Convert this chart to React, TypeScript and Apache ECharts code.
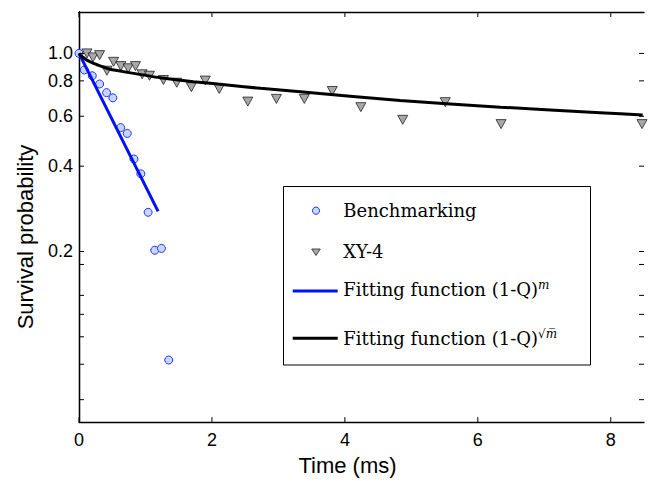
import React, { useEffect, useRef } from "react";
import * as echarts from "echarts";

// Benchmarking (circles)
const benchTime = [0, 0.08, 0.2, 0.31, 0.415, 0.51, 0.626, 0.726, 0.827, 0.93, 1.04, 1.14, 1.24, 1.35];
const benchSurv = [1.0, 0.874, 0.834, 0.78, 0.727, 0.697, 0.547, 0.522, 0.424, 0.376, 0.275, 0.202, 0.205, 0.0828];

// XY-4 (triangles)
const xyTime = [0.12, 0.21, 0.31, 0.42, 0.52, 0.63, 0.74, 0.85, 0.95, 1.06, 1.27, 1.47, 1.69, 1.9, 2.11, 2.54, 2.97, 3.39, 3.81, 4.24, 4.87, 5.51, 6.35, 8.47];
const xySurv = [1.0, 0.968, 0.986, 0.869, 0.934, 0.902, 0.886, 0.902, 0.844, 0.834, 0.806, 0.788, 0.76, 0.802, 0.749, 0.676, 0.691, 0.691, 0.737, 0.646, 0.583, 0.673, 0.563, 0.563];

// Fitting function (1-Q)^m (straight on log scale)
const fitMTime = [0, 1.19];
const fitMSurv = [1.0, 0.277];

// Fitting function (1-Q)^sqrt(m)
const fitSqTime = [0, 0.02, 0.07, 0.12, 0.22, 0.35, 0.47, 0.72, 1.22, 1.72, 2.23, 2.73, 3.33, 4.83, 6.34, 7.84, 8.48];
const fitSqSurv = [1.0, 0.985, 0.965, 0.947, 0.922, 0.898, 0.879, 0.858, 0.821, 0.795, 0.774, 0.753, 0.733, 0.682, 0.646, 0.618, 0.606];

const xTicks = [0, 2, 4, 6, 8];
const yLabels = [0.2, 0.4, 0.6, 0.8, 1.0];
const yTicks = [0.06, 0.08, 0.1, 0.12, 0.14, 0.18, 0.2, 0.4, 0.6, 0.8, 1.0];

const X_MIN = 0;
const X_MAX = 8.5;
const Y_MIN = 0.05;
const Y_MAX = 1.4;

const legendNames = ["Benchmarking", "XY-4", "Fitting function (1-Q)", "Fitting function (1-Q)"];

const zip = (a: number[], b: number[]) => a.map((v, i) => [v, b[i]]);

const SANS = "Liberation Sans, Arial, Helvetica, sans-serif";
const SERIF = "DejaVu Serif, serif";
const TICK = 5;

export default function App() {
  const ref = useRef<HTMLDivElement>(null);
  useEffect(() => {
    if (!ref.current) return;
    const chart = echarts.init(ref.current, undefined, { renderer: "svg" });
    const axisLine = { show: true, lineStyle: { color: "#000", width: 1.3 } };
    const tickLine = (x1: number, y1: number, x2: number, y2: number) => ({
      type: "line",
      shape: { x1, y1, x2, y2 },
      style: { stroke: "#000", lineWidth: 1 },
    });
    chart.setOption({
      animation: false,
      backgroundColor: "#fff",
      grid: { left: 79, right: 6, top: 12, bottom: 57, show: false },
      xAxis: [
        {
          type: "value",
          min: X_MIN,
          max: X_MAX,
          position: "bottom",
          axisLine,
          axisTick: { show: false },
          axisLabel: { customValues: xTicks, color: "#000", fontSize: 18, fontFamily: SANS, margin: 9 },
          splitLine: { show: false },
          name: "Time (ms)",
          nameLocation: "middle",
          nameGap: 31,
          nameTextStyle: { color: "#000", fontSize: 22, fontFamily: SANS, padding: [0, 28, 0, 0] },
        },
        {
          type: "value",
          min: X_MIN,
          max: X_MAX,
          position: "top",
          axisLine,
          axisTick: { show: false },
          axisLabel: { show: false },
          splitLine: { show: false },
        },
      ],
      yAxis: [
        {
          type: "log",
          logBase: 10,
          min: Y_MIN,
          max: Y_MAX,
          position: "left",
          axisLine,
          axisTick: { show: false },
          axisLabel: {
            customValues: yLabels,
            color: "#000",
            fontSize: 18,
            fontFamily: SANS,
            margin: 6,
            formatter: (v: number) => v.toFixed(1),
          },
          splitLine: { show: false },
          minorTick: { show: false },
          name: "Survival probability",
          nameLocation: "middle",
          nameGap: 43,
          nameTextStyle: { color: "#000", fontSize: 22, fontFamily: SANS, padding: [0, 40, 0, 0] },
        },
        {
          type: "log",
          logBase: 10,
          min: Y_MIN,
          max: Y_MAX,
          position: "right",
          axisLine,
          axisTick: { show: false },
          axisLabel: { show: false },
          splitLine: { show: false },
        },
      ],
      series: [
        {
          name: "yTicks",
          type: "custom",
          silent: true,
          z: 5,
          data: yTicks.map((v) => [X_MIN, v]),
          renderItem: (_p: any, api: any) => {
            const v = api.value(1);
            const l = api.coord([X_MIN, v]);
            const r = api.coord([X_MAX, v]);
            return {
              type: "group",
              children: [tickLine(l[0], l[1], l[0] + TICK, l[1]), tickLine(r[0], r[1], r[0] - TICK, r[1])],
            };
          },
        },
        {
          name: "xTicks",
          type: "custom",
          silent: true,
          z: 5,
          data: xTicks.map((v) => [v, Y_MIN]),
          renderItem: (_p: any, api: any) => {
            const v = api.value(0);
            const b = api.coord([v, Y_MIN]);
            const t = api.coord([v, Y_MAX]);
            return {
              type: "group",
              children: [tickLine(b[0], b[1], b[0], b[1] - TICK), tickLine(t[0], t[1], t[0], t[1] + TICK)],
            };
          },
        },
        {
          name: legendNames[0],
          type: "scatter",
          data: zip(benchTime, benchSurv),
          symbol: "circle",
          symbolSize: 8,
          itemStyle: { color: "#c7d6fb", borderColor: "#2233ff", borderWidth: 1, opacity: 1 },
          z: 2,
        },
        {
          name: legendNames[1],
          type: "scatter",
          data: zip(xyTime, xySurv),
          symbol: "triangle",
          symbolRotate: 180,
          symbolSize: [10, 9],
          itemStyle: { color: "#a8a8a8", borderColor: "#222", borderWidth: 0.8, opacity: 1 },
          z: 2,
        },
        {
          name: legendNames[2],
          type: "line",
          data: zip(fitMTime, fitMSurv),
          showSymbol: false,
          symbol: "none",
          lineStyle: { color: "#0010ff", width: 3 },
          z: 3,
        },
        {
          name: legendNames[3],
          type: "line",
          data: zip(fitSqTime, fitSqSurv),
          showSymbol: false,
          symbol: "none",
          smooth: 0.2,
          lineStyle: { color: "#000", width: 3 },
          z: 3,
        },
      ],
      graphic: [
        {
          type: "group",
          z: 100,
          children: [
            {
              type: "rect",
              shape: { x: 283.5, y: 186.5, width: 307, height: 178.5 },
              style: { fill: "#fff", stroke: "#000", lineWidth: 1 },
            },
            {
              type: "circle",
              shape: { cx: 316, cy: 210.7, r: 3.6 },
              style: { fill: "#c7d6fb", stroke: "#2233ff", lineWidth: 1 },
            },
            {
              type: "text",
              x: 343.3,
              y: 210.5,
              style: { text: legendNames[0], fontSize: 18, fontFamily: SERIF, fill: "#000", verticalAlign: "middle" },
            },
            {
              type: "polygon",
              shape: { points: [[311.7, 249], [320.3, 249], [316, 255.5]] },
              style: { fill: "#a8a8a8", stroke: "#222", lineWidth: 0.8 },
            },
            {
              type: "text",
              x: 343.3,
              y: 251.7,
              style: { text: legendNames[1], fontSize: 18, fontFamily: SERIF, fill: "#000", verticalAlign: "middle" },
            },
            {
              type: "line",
              shape: { x1: 292.7, y1: 291, x2: 337.7, y2: 291 },
              style: { stroke: "#0010ff", lineWidth: 3 },
            },
            {
              type: "text",
              x: 343.3,
              y: 289,
              style: {
                text: legendNames[2] + "{sup|m}",
                fontSize: 18,
                fontFamily: SERIF,
                fill: "#000",
                verticalAlign: "middle",
                lineHeight: 20,
                rich: { sup: { fontSize: 12, fontFamily: SERIF, fontStyle: "italic", verticalAlign: "top", lineHeight: 14 } },
              },
            },
            {
              type: "line",
              shape: { x1: 292.7, y1: 338.3, x2: 337.7, y2: 338.3 },
              style: { stroke: "#000", lineWidth: 3 },
            },
            {
              type: "text",
              x: 343.3,
              y: 338,
              style: {
                text: legendNames[3] + "{sup|\u221Am\u0305}",
                fontSize: 18,
                fontFamily: SERIF,
                fill: "#000",
                verticalAlign: "middle",
                lineHeight: 20,
                rich: { sup: { fontSize: 12, fontFamily: SERIF, fontStyle: "italic", verticalAlign: "top", lineHeight: 14 } },
              },
            },
          ],
        },
      ],
    });
    return () => chart.dispose();
  }, []);
  return <div ref={ref} style={{ position: "fixed", left: 0, top: 0, width: 650, height: 481 }} />;
}
